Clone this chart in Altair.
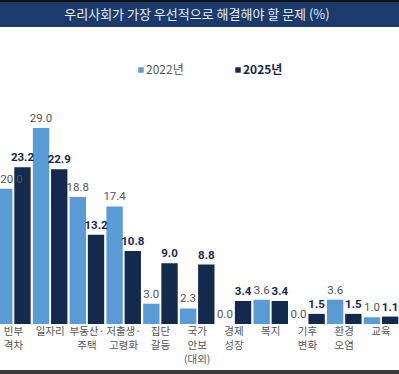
import altair as alt
import pandas as pd

categories = ["빈부\n격차", "일자리", "부동산·\n주택", "저출생·\n고령화", "집단\n갈등",
              "국가\n안보\n(대외)", "경제\n성장", "복지", "기후\n변화", "환경\n오염", "교육"]
series = ["2022년", "2025년"]
v2022 = [20.0, 29.0, 18.8, 17.4, 3.0, 2.3, 0.0, 3.6, 0.0, 3.6, 1.0]
v2025 = [23.2, 22.9, 13.2, 10.8, 9.0, 8.8, 3.4, 3.4, 1.5, 1.5, 1.1]
title_text = "우리사회가 가장 우선적으로 해결해야 할 문제 (%)"

rows = []
for c, a, b in zip(categories, v2022, v2025):
    rows.append({"cat": c, "series": series[0], "value": a})
    rows.append({"cat": c, "series": series[1], "value": b})
df = pd.DataFrame(rows)
df["label"] = df["value"].map(lambda v: f"{v:.1f}")
cat_df = pd.DataFrame({"cat": categories})

C22 = "#5b9bd5"
C25 = "#142a4d"
FONT = "Noto Sans CJK KR"
NUMFONT = "Roboto"

xs = alt.Scale(domain=categories, range=[-5, 399.4], paddingInner=0.06, paddingOuter=0.03)
ys = alt.Scale(domain=[0, 29], range=[324, 128])
xo = alt.Scale(domain=series, paddingInner=0.1)
col = alt.Scale(domain=series, range=[C22, C25])

X = alt.X("cat:N", scale=xs, axis=None, sort=categories)
XO = alt.XOffset("series:N", scale=xo, sort=series)
Y = alt.Y("value:Q", scale=ys, axis=None)

bars = alt.Chart(df).mark_bar().encode(
    x=X, xOffset=XO, y=Y,
    color=alt.Color("series:N", scale=col, legend=None),
)

def labels(sub, color, weight, **kw):
    return alt.Chart(sub).mark_text(
        baseline="bottom", dy=-4, fontSize=11.5, font=NUMFONT,
        color=color, fontWeight=weight, **kw
    ).encode(x=X, xOffset=XO, y=Y, text="label:N")

d22 = df[df.series == series[0]]
first = d22.iloc[[0]]
rest = d22.iloc[1:]
l22a = labels(first, "#555555", "normal", align="left", dx=-4)
l22 = labels(rest, "#555555", "normal")
l25 = labels(df[df.series == series[1]], C25, "bold")

catlab = alt.Chart(cat_df).mark_text(
    baseline="top", fontSize=10.5, font=FONT, color="#555555", lineBreak="\n", lineHeight=14
).encode(x=X, y=alt.value(327), text="cat:N")

title_bg = alt.Chart(cat_df).mark_rect(color="#1a3b6b").encode(
    x=alt.value(0), x2=alt.value(399), y=alt.value(0), y2=alt.value(27))
top_strip = alt.Chart(cat_df).mark_rect(color="#111111").encode(
    x=alt.value(0), x2=alt.value(399), y=alt.value(0), y2=alt.value(2))
bottom_strip = alt.Chart(cat_df).mark_rect(color="#3c3c3c").encode(
    x=alt.value(0), x2=alt.value(399), y=alt.value(370), y2=alt.value(374))
title = alt.Chart(pd.DataFrame({"t": [title_text]})).mark_text(
    fontSize=13, font=FONT, color="#e6edf5", baseline="middle", align="center"
).encode(x=alt.value(197), y=alt.value(15), text="t:N")

leg_sq1 = alt.Chart(pd.DataFrame({"s": [series[0]]})).mark_square(size=30, color=C22, opacity=1).encode(
    x=alt.value(141), y=alt.value(70))
leg_t1 = alt.Chart(pd.DataFrame({"s": [series[0]]})).mark_text(
    align="left", baseline="middle", fontSize=12, font=FONT, color="#555555").encode(
    x=alt.value(146), y=alt.value(70), text="s:N")
leg_sq2 = alt.Chart(pd.DataFrame({"s": [series[1]]})).mark_square(size=30, color=C25, opacity=1).encode(
    x=alt.value(238), y=alt.value(70))
leg_t2 = alt.Chart(pd.DataFrame({"s": [series[1]]})).mark_text(
    align="left", baseline="middle", fontSize=12, font=FONT, color=C25, fontWeight="bold").encode(
    x=alt.value(243), y=alt.value(70), text="s:N")

chart = alt.layer(
    bars, l22a, l22, l25, catlab, title_bg, top_strip, bottom_strip, title,
    leg_sq1, leg_t1, leg_sq2, leg_t2
).properties(
    width=399, height=374, padding=0, autosize=alt.AutoSizeParams(type="none"),
    background="white"
).configure_view(stroke=None)

chart.save("out.html", embed_options={"renderer": "svg", "actions": False})
